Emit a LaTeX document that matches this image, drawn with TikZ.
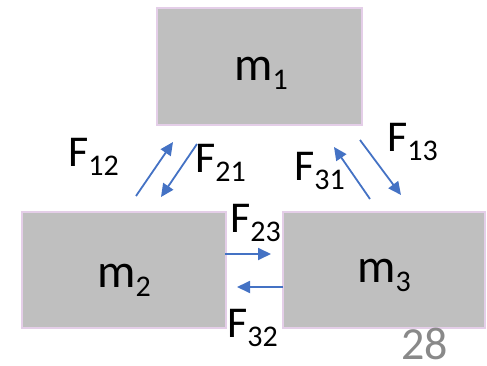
\documentclass[tikz,border=0pt]{standalone}
\usepackage{fontspec}
\setmainfont{Carlito}
\usetikzlibrary{arrows.meta}
\definecolor{boxfill}{RGB}{191,191,191}
\definecolor{boxline}{RGB}{228,206,232}
\definecolor{arrowblue}{RGB}{68,114,196}
\definecolor{pagegray}{RGB}{137,137,137}
\newcommand{\subl}[2]{#1\raisebox{-9pt}{\fontsize{30}{30}\selectfont #2}}
\begin{document}
\begin{tikzpicture}[x=1pt,y=-1pt,
  mass/.style={draw=boxline, line width=1.5pt, fill=boxfill, inner sep=0pt},
  masstext/.style={anchor=base, inner sep=0pt, font=\fontsize{48}{50}\selectfont},
  forcetext/.style={anchor=base west, inner sep=0pt, font=\fontsize{44}{48}\selectfont},
  force/.style={draw=arrowblue, line width=1.8pt, -{Triangle[length=13pt,width=12pt]}}]
\useasboundingbox (0,0) rectangle (487,366);
% boxes
\node[mass, minimum width=205pt, minimum height=117pt] (m1) at (259.5,66.5) {};
\node[mass, minimum width=204pt, minimum height=116pt] (m2) at (124,270) {};
\node[mass, minimum width=202pt, minimum height=116pt] (m3) at (384,270) {};
\node[masstext] (t1) at (261,81) {\subl{m}{1}};
\node[masstext] (t2) at (124,287) {\subl{m}{2}};
\node[masstext] (t3) at (384,282) {\subl{m}{3}};
% arrow end points
\coordinate (a12s) at (136,196);
\coordinate (a12e) at (173,142);
\coordinate (a21s) at (197,144);
\coordinate (a21e) at (161,197);
\coordinate (a31s) at (370,199);
\coordinate (a31e) at (334,147);
\coordinate (a13s) at (360,140);
\coordinate (a13e) at (401,195);
\coordinate (a23s) at (225,254);
\coordinate (a23e) at (271,254);
\coordinate (a32s) at (283,287);
\coordinate (a32e) at (237,287);
\draw[force] (a12s) -- (a12e);
\draw[force] (a21s) -- (a21e);
\draw[force] (a31s) -- (a31e);
\draw[force] (a13s) -- (a13e);
\draw[force] (a23s) -- (a23e);
\draw[force] (a32s) -- (a32e);
% force labels
\node[forcetext] (f12) at (68,167) {\subl{F}{12}};
\node[forcetext] (f21) at (195,173) {\subl{F}{21}};
\node[forcetext] (f31) at (294,181) {\subl{F}{31}};
\node[forcetext] (f13) at (387,152) {\subl{F}{13}};
\node[forcetext] (f23) at (230,233) {\subl{F}{23}};
\node[forcetext] (f32) at (227,337) {\subl{F}{32}};
% page number
\node[forcetext, text=pagegray, font=\fontsize{46}{50}\selectfont] (pg) at (401,359) {28};
\end{tikzpicture}
\end{document}
